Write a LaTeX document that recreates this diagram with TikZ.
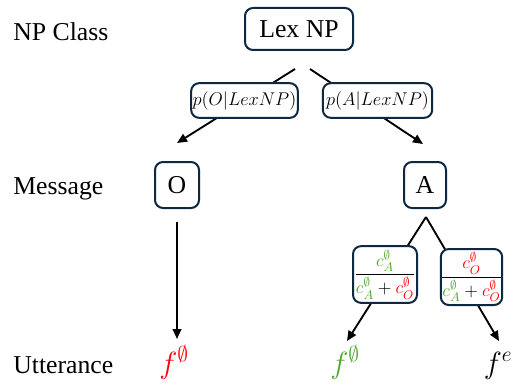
\RequirePackage{fix-cm}
\documentclass[tikz,border=0pt]{standalone}
\usepackage{amsmath}
\usepackage{fontspec}
\setmainfont{Liberation Serif}
\usetikzlibrary{arrows.meta}
\definecolor{boxline}{HTML}{0E2841}
\definecolor{grn}{HTML}{4EA72E}
\definecolor{rd}{HTML}{FF0000}
\tikzset{
  rbox/.style={draw=boxline, line width=1.5pt, rounded corners=6pt, fill=white,
    inner sep=0pt, align=center},
  lvl/.style={anchor=base west, inner sep=0pt, font=\fontsize{19.3}{23}\selectfont},
  conn/.style={line width=1.4pt, black},
  arr/.style={conn, -{Triangle[length=7.5pt,width=6.5pt]}},
  lbl/.style={rbox, font=\fontsize{13.8}{16}\selectfont},
  fracbox/.style={rbox, font=\fontsize{13.5}{16}\selectfont},
  utt/.style={anchor=base, inner sep=0pt, font=\fontsize{23}{27}\selectfont},
}
\newcommand{\nul}{\emptyset}
\begin{document}
\begin{tikzpicture}[x=0.75pt, y=-0.75pt, font=\fontsize{19.3}{23}\selectfont]
  \useasboundingbox (0,0) rectangle (517,385);

  % level captions
  \node[lvl] (cls) at (13,41) {NP Class};
  \node[lvl] (msg) at (13,194) {Message};
  \node[lvl] (utr) at (13,373) {Utterance};

  % tree nodes
  \node[rbox, minimum width=81pt, minimum height=31.5pt] (lex) at (299,29) {Lex NP};
  \node[rbox, minimum width=33pt, minimum height=34.5pt] (O) at (177,185) {O};
  \node[rbox, minimum width=31.5pt, minimum height=34.5pt] (A) at (425,185) {A};

  % connector end points
  \coordinate (lexL) at (295,69);
  \coordinate (lexR) at (310,69);
  \coordinate (toO) at (177,143);
  \coordinate (toA) at (423,144);
  \coordinate (Ob) at (177,222);
  \coordinate (Ab) at (426,217);

  % utterances
  \node[utt, text=rd] (f1) at (174,373) {$f^{\nul}$};
  \node[utt, text=grn] (f2) at (345,373) {$f^{\nul}$};
  \node[utt] (f3) at (498,373) {$f^{e}$};

  \coordinate (f1t) at (177,339);
  \coordinate (f2t) at (347,341);
  \coordinate (f3t) at (499,341);

  % connectors
  \draw[arr] (lexL) -- (toO);
  \draw[arr] (lexR) -- (toA);
  \draw[arr] (Ob) -- (f1t);
  \draw[arr] (Ab) -- (f2t);
  \draw[arr] (Ab) -- (f3t);

  % probability labels on the top branches
  \node[lbl, minimum width=80pt, minimum height=26pt] (pO) at (244.5,100.5) {$p(O|LexNP)$};
  \node[lbl, minimum width=82pt, minimum height=26pt] (pA) at (377.5,100.5) {$p(A|LexNP)$};

  % ratio labels on the lower branches
  \node[fracbox, minimum width=48pt, minimum height=42.5pt] (rA) at (385,274.5)
    {$\dfrac{\color{grn}c_A^{\nul}}{{\color{grn}c_A^{\nul}}+{\color{rd}c_O^{\nul}}}$};
  \node[fracbox, minimum width=45.5pt, minimum height=42pt] (rO) at (471.5,277)
    {$\dfrac{\color{rd}c_O^{\nul}}{{\color{grn}c_A^{\nul}}+{\color{rd}c_O^{\nul}}}$};
\end{tikzpicture}
\end{document}
